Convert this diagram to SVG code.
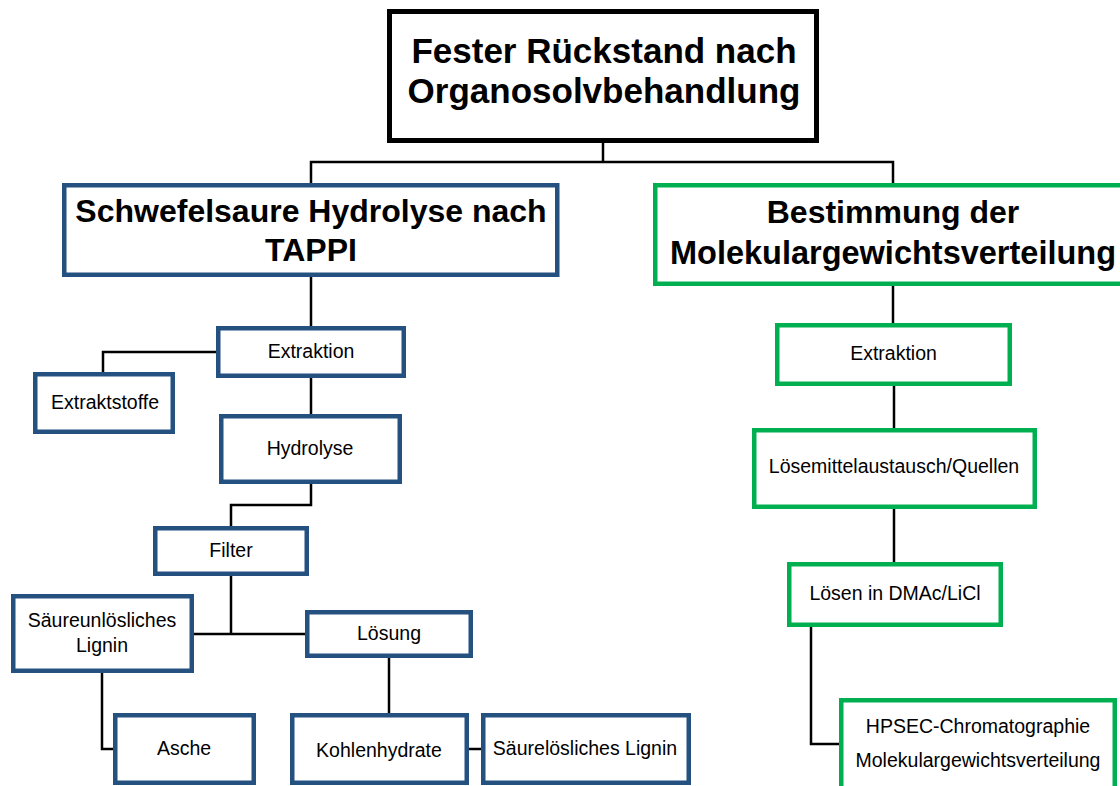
<svg xmlns="http://www.w3.org/2000/svg" width="1120" height="786" viewBox="0 0 1120 786">
<style>
.bg{fill:#ffffff}
.top{fill:#ffffff;stroke:#000000;stroke-width:5}
.blue{fill:#ffffff;stroke:#255180;stroke-width:4.5}
.green{fill:#ffffff;stroke:#00B050;stroke-width:4.5}
.big{font-family:"Liberation Sans",Arial,sans-serif;font-weight:bold;fill:#000000;text-anchor:middle}
.sm{font-family:"Liberation Sans",Arial,sans-serif;font-size:19.5px;fill:#000000;text-anchor:middle}
.conn{fill:none;stroke:#000000;stroke-width:2.5}
</style>
<rect class="bg" x="0" y="0" width="1120" height="786"/>
<g id="connectors">
<polyline class="conn" points="603,143 603,162"/>
<polyline class="conn" points="311,185 311,162 893,162 893,185"/>
<polyline class="conn" points="311,276 311,328"/>
<polyline class="conn" points="218,352 103,352 103,374"/>
<polyline class="conn" points="311,378 311,416"/>
<polyline class="conn" points="311,484 311,505 231,505 231,528"/>
<polyline class="conn" points="231,576 231,634"/>
<polyline class="conn" points="193,634 307,634"/>
<polyline class="conn" points="389,658 389,715"/>
<polyline class="conn" points="102,673 102,749 115,749"/>
<polyline class="conn" points="469,749 483,749"/>
<polyline class="conn" points="893,286 893,325"/>
<polyline class="conn" points="894,386 894,430"/>
<polyline class="conn" points="894,509 894,564"/>
<polyline class="conn" points="811,627 811,744 841,744"/>
</g>
<g id="n-root">
<rect class="top" x="389.5" y="11.5" width="427" height="129"/>
<text class="big" font-size="35" x="604" y="63">Fester Rückstand nach</text>
<text class="big" font-size="35" x="604" y="103">Organosolvbehandlung</text>
</g>
<g id="n-tappi">
<rect class="blue" x="64.25" y="185.25" width="493" height="89.5"/>
<text class="big" font-size="32" x="311" y="222">Schwefelsaure Hydrolyse nach</text>
<text class="big" font-size="32" x="311" y="261">TAPPI</text>
</g>
<g id="n-mwd">
<rect class="green" x="655.25" y="185.25" width="480" height="98.5"/>
<text class="big" font-size="32" x="893" y="223">Bestimmung der</text>
<text class="big" font-size="32.5" x="893" y="264">Molekulargewichtsverteilung</text>
</g>
<g id="n-extraktion-l">
<rect class="blue" x="218.25" y="328.25" width="185.5" height="47.5"/>
<text class="sm" x="311" y="358">Extraktion</text>
</g>
<g id="n-extraktstoffe">
<rect class="blue" x="35.25" y="374.25" width="137.5" height="57.5"/>
<text class="sm" x="105" y="409">Extraktstoffe</text>
</g>
<g id="n-hydrolyse">
<rect class="blue" x="221.25" y="416.25" width="178.5" height="65.5"/>
<text class="sm" x="310" y="455">Hydrolyse</text>
</g>
<g id="n-filter">
<rect class="blue" x="155.25" y="528.25" width="151.5" height="45.5"/>
<text class="sm" x="231" y="557">Filter</text>
</g>
<g id="n-saeureunl">
<rect class="blue" x="13.25" y="596.25" width="178.5" height="74.5"/>
<text class="sm" x="102" y="627">Säureunlösliches</text>
<text class="sm" x="102" y="652">Lignin</text>
</g>
<g id="n-loesung">
<rect class="blue" x="307.25" y="612.25" width="163.5" height="43.5"/>
<text class="sm" x="389" y="640">Lösung</text>
</g>
<g id="n-asche">
<rect class="blue" x="115.25" y="715.25" width="138.5" height="67.5"/>
<text class="sm" x="184" y="755">Asche</text>
</g>
<g id="n-kohlenhydrate">
<rect class="blue" x="292.25" y="715.25" width="174.5" height="67.5"/>
<text class="sm" x="379" y="757">Kohlenhydrate</text>
</g>
<g id="n-saeureloesl">
<rect class="blue" x="483.25" y="715.25" width="205.5" height="67.5"/>
<text class="sm" x="585" y="755">Säurelösliches Lignin</text>
</g>
<g id="n-extraktion-r">
<rect class="green" x="777.25" y="325.25" width="232.5" height="58.5"/>
<text class="sm" x="893.5" y="360">Extraktion</text>
</g>
<g id="n-loesemittel">
<rect class="green" x="754.25" y="430.25" width="280.5" height="76.5"/>
<text class="sm" x="894" y="473">Lösemittelaustausch/Quellen</text>
</g>
<g id="n-loesen">
<rect class="green" x="789.25" y="564.25" width="211.5" height="60.5"/>
<text class="sm" x="895" y="600">Lösen in DMAc/LiCl</text>
</g>
<g id="n-hpsec">
<rect class="green" x="841.25" y="700.25" width="273.5" height="100"/>
<text class="sm" x="978" y="733">HPSEC-Chromatographie</text>
<text class="sm" x="978" y="767">Molekulargewichtsverteilung</text>
</g>
</svg>
